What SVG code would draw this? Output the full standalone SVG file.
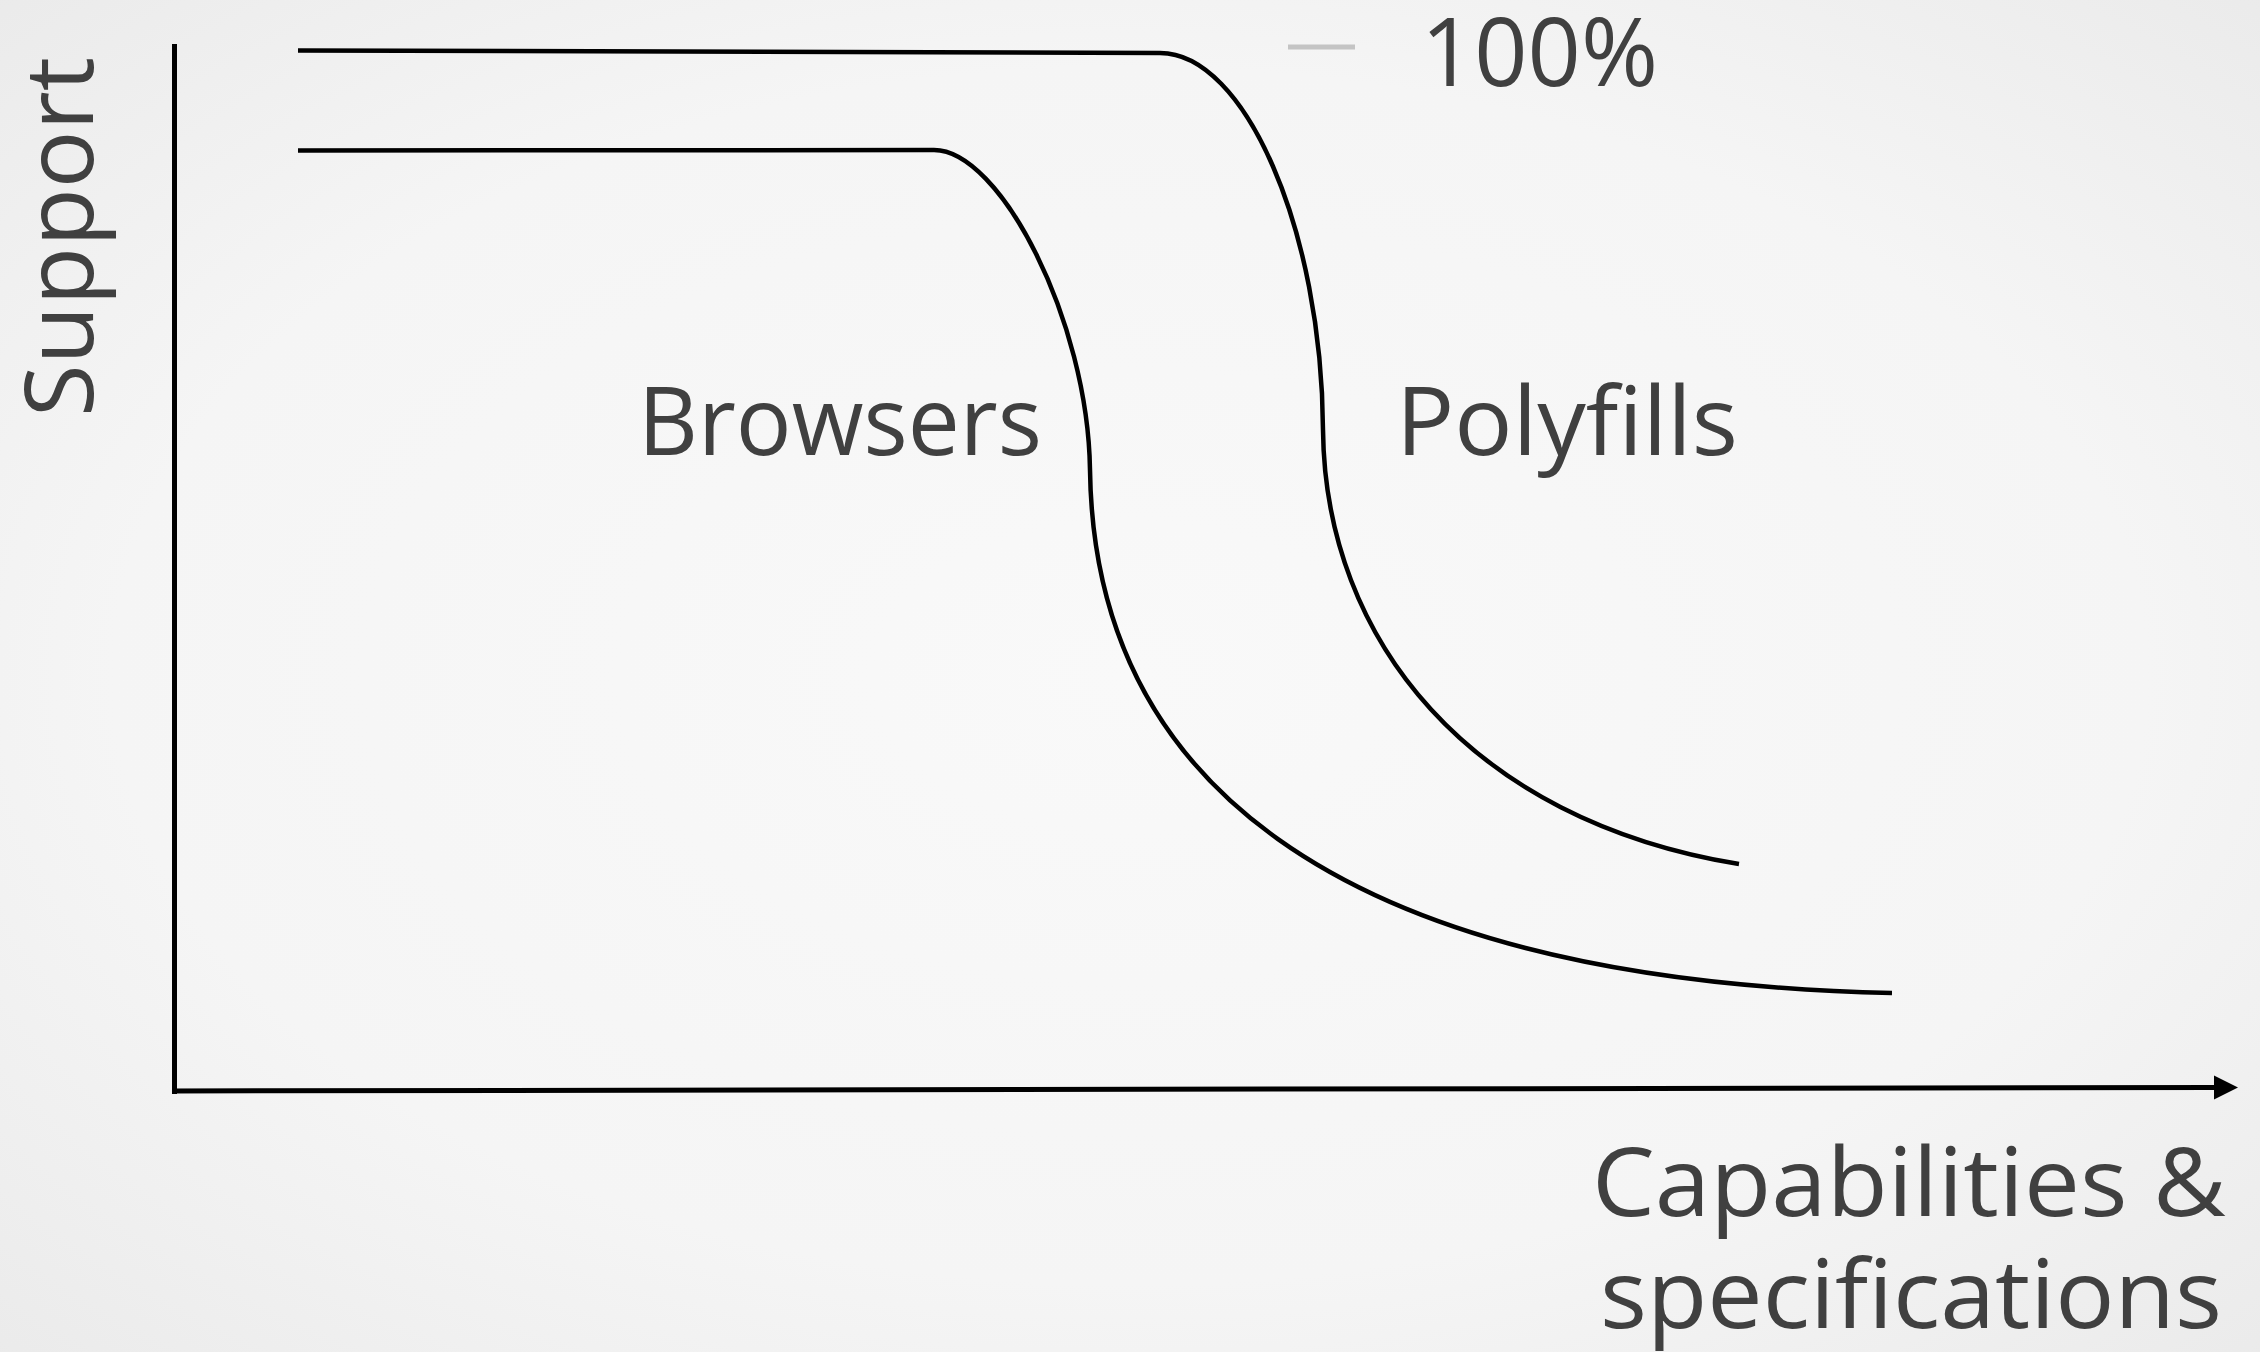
<svg xmlns="http://www.w3.org/2000/svg" width="2260" height="1352" viewBox="0 0 2260 1352">
  <style>
    .lbl { font-family: "Open Sans", "Noto Sans", "DejaVu Sans", sans-serif; fill: #404040; font-size: 95px; }
    .axis { stroke: #000; stroke-width: 5; fill: none; }
    .curve { stroke: #000; stroke-width: 4.5; fill: none; stroke-linecap: butt; }
  </style>
  <defs>
    <radialGradient id="bg" cx="50%" cy="50%" r="75%">
      <stop offset="0" stop-color="#f9f9f9"/>
      <stop offset="0.6" stop-color="#f5f5f5"/>
      <stop offset="1" stop-color="#e9e9e9"/>
    </radialGradient>
    <marker id="arrow" markerUnits="userSpaceOnUse" markerWidth="26" markerHeight="26" refX="0" refY="12" orient="auto">
      <path d="M0,0 L24,12 L0,24 Z" fill="#000"/>
    </marker>
  </defs>
  <rect x="0" y="0" width="2260" height="1352" fill="url(#bg)"/>

  <g id="axes">
    <line class="axis" x1="174.5" y1="44" x2="174.5" y2="1094"/>
    <line class="axis" x1="172" y1="1091" x2="2214" y2="1087.5" marker-end="url(#arrow)"/>
  </g>

  <g id="curves">
    <path id="polyfills-curve" class="curve" d="M298,50.5 L1160,53 C1245,53 1322,230 1323,430 C1325,640 1470,820 1739,864"/>
    <path id="browsers-curve" class="curve" d="M298,150.5 L934,150 C1000,150 1088,320 1090,470 C1094,770 1320,980 1892,993"/>
  </g>

  <g id="marker-100">
    <line x1="1288" y1="47" x2="1355" y2="47" stroke="#c4c4c4" stroke-width="5"/>
    <text class="lbl" x="1421" y="86" font-size="97" textLength="237" lengthAdjust="spacingAndGlyphs">100%</text>
  </g>

  <g id="label-support">
    <text class="lbl" transform="translate(93,417) rotate(-90)" x="0" y="0" font-size="96" textLength="360" lengthAdjust="spacingAndGlyphs">Support</text>
  </g>

  <g id="label-browsers">
    <text class="lbl" x="638" y="455" font-size="94" textLength="404" lengthAdjust="spacingAndGlyphs">Browsers</text>
  </g>

  <g id="label-polyfills">
    <text class="lbl" x="1396" y="455" font-size="94" textLength="342" lengthAdjust="spacingAndGlyphs">Polyfills</text>
  </g>

  <g id="label-xaxis">
    <text class="lbl" x="1592" y="1216" font-size="96" textLength="634" lengthAdjust="spacingAndGlyphs">Capabilities &amp;</text>
    <text class="lbl" x="1600" y="1328" font-size="96" textLength="622" lengthAdjust="spacingAndGlyphs">specifications</text>
  </g>
</svg>
